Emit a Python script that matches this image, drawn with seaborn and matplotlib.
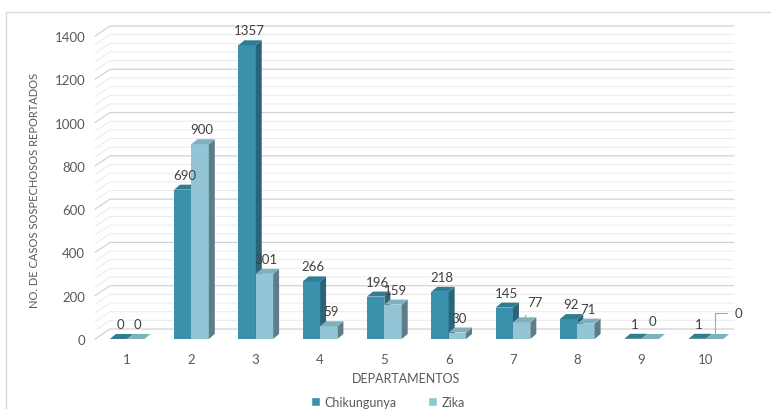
import matplotlib.pyplot as plt
import seaborn as sns
import pandas as pd
from matplotlib.patches import Polygon, Patch
from matplotlib.lines import Line2D

# Casos sospechosos por departamento
departamentos = ['1', '2', '3', '4', '5', '6', '7', '8', '9', '10']
chikungunya = [0, 690, 1357, 266, 196, 218, 145, 92, 1, 1]
zika = [0, 900, 301, 59, 159, 30, 77, 71, 0, 0]

series = ['Chikungunya', 'Zika']
front = ['#3B91AC', '#93C5D7']
side = ['#28657A', '#5E7D89']
top = ['#2F7C93', '#7EB0C1']

df = pd.DataFrame({
    'Departamento': departamentos * 2,
    'Casos': chikungunya + zika,
    'Enfermedad': ['Chikungunya'] * len(chikungunya) + ['Zika'] * len(zika),
})

sns.set_style('white')
plt.rcParams['font.family'] = ['Lato', 'DejaVu Sans']

W, H = 771, 410
fig = plt.figure(figsize=(W / 100, H / 100), dpi=100)
ax_l, ax_r, ax_t, ax_b = 95, 738, 37, 340
ax = fig.add_axes([ax_l / W, 1 - ax_b / H, (ax_r - ax_l) / W, (ax_b - ax_t) / H])

sns.barplot(data=df, x='Departamento', y='Casos', hue='Enfermedad',
            palette=front, width=0.54, saturation=1, legend=False, ax=ax,
            linewidth=0)
ax.set_xlim(-0.5, 9.5)
ax.set_ylim(0, 1400)

# pixel -> data conversion for the fake 3d depth
px_x = 10 / (ax_r - ax_l)
px_y = 1400 / (ax_b - ax_t)
ddx, ddy = 6 * px_x, 5 * px_y

# back wall grid
for v in range(0, 1401, 40):
    major = v % 200 == 0
    c = '#D3D3D3' if major else '#EAEAEA'
    lw = 0.9 if major else 0.7
    bx = -0.5 + 15 * px_x
    by = v + 10 * px_y
    ax.add_line(Line2D([-0.5, bx, 9.5 - 4 * px_x], [v, by, by], color=c, lw=lw,
                       zorder=0.5, clip_on=False))

# 3d faces for each bar
n = len(departamentos)
for i, p in enumerate(ax.patches):
    s = i // n
    x0, w, h = p.get_x(), p.get_width(), p.get_height()
    p.set_zorder(2 + s)
    ax.add_patch(Polygon([(x0 + w, 0), (x0 + w + ddx, ddy), (x0 + w + ddx, h + ddy), (x0 + w, h)],
                         closed=True, fc=side[s], ec='none', zorder=2 + s + 0.1, clip_on=False))
    ax.add_patch(Polygon([(x0, h), (x0 + w, h), (x0 + w + ddx, h + ddy), (x0 + ddx, h + ddy)],
                         closed=True, fc=top[s], ec='none', zorder=2 + s + 0.2, clip_on=False))

# data labels
label_color = '#404040'
leaders = {(1, 6): ((13, 20), 'arc3'), (1, 8): ((2, 18), 'arc3'),
           (1, 9): ((20, 26), 'angle,angleA=0,angleB=90,rad=0')}
for i, p in enumerate(ax.patches[:2 * n]):
    s, k = divmod(i, n)
    val = [chikungunya, zika][s][k]
    xc = p.get_x() + p.get_width() / 2
    if (s, k) in leaders:
        off, cs = leaders[(s, k)]
        ax.annotate(str(val), (xc, val), xytext=off, textcoords='offset pixels',
                    ha='left' if k == 9 else 'center', va='center', fontsize=9.5,
                    color=label_color, zorder=6,
                    arrowprops=dict(arrowstyle='-', color='#A6A6A6', lw=0.8,
                                    connectionstyle=cs, shrinkA=3, shrinkB=1))
    else:
        ax.annotate(str(val), (xc, val), xytext=(2, 9), textcoords='offset pixels',
                    ha='center', va='bottom', fontsize=9.5, color=label_color, zorder=6)

sns.despine(ax=ax, left=True, bottom=True)
ax.tick_params(axis='both', length=0, labelsize=9.5, labelcolor='#595959')
ax.tick_params(axis='y', pad=7)
ax.tick_params(axis='x', pad=10)
ax.set_yticks(range(0, 1401, 200))

ax.set_xlabel('DEPARTAMENTOS', fontsize=9, color='#595959')
ax.xaxis.set_label_coords((406 - ax_l) / (ax_r - ax_l), -(373 - ax_b) / (ax_b - ax_t))
ax.set_ylabel('NO. DE CASOS SOSPECHOSOS REPORTADOS', fontsize=8, color='#595959')
ax.yaxis.set_label_coords(-(ax_l - 40) / (ax_r - ax_l), (ax_b - 190) / (ax_b - ax_t))

handles = [Patch(facecolor=front[0], label=series[0]), Patch(facecolor=front[1], label=series[1])]
fig.legend(handles=handles, loc='lower center', bbox_to_anchor=(388 / W, -0.025), ncol=2,
           frameon=False, fontsize=9, handlelength=0.7, handleheight=0.7,
           handletextpad=0.4, columnspacing=2.5, labelcolor='#595959')

# chart border (top and left visible)
fig.add_artist(Line2D([6 / W, 6 / W, 1], [0, 1 - 13 / H, 1 - 13 / H], transform=fig.transFigure,
                      color='#D9D9D9', lw=1))

fig.savefig('out.png', dpi=100)
